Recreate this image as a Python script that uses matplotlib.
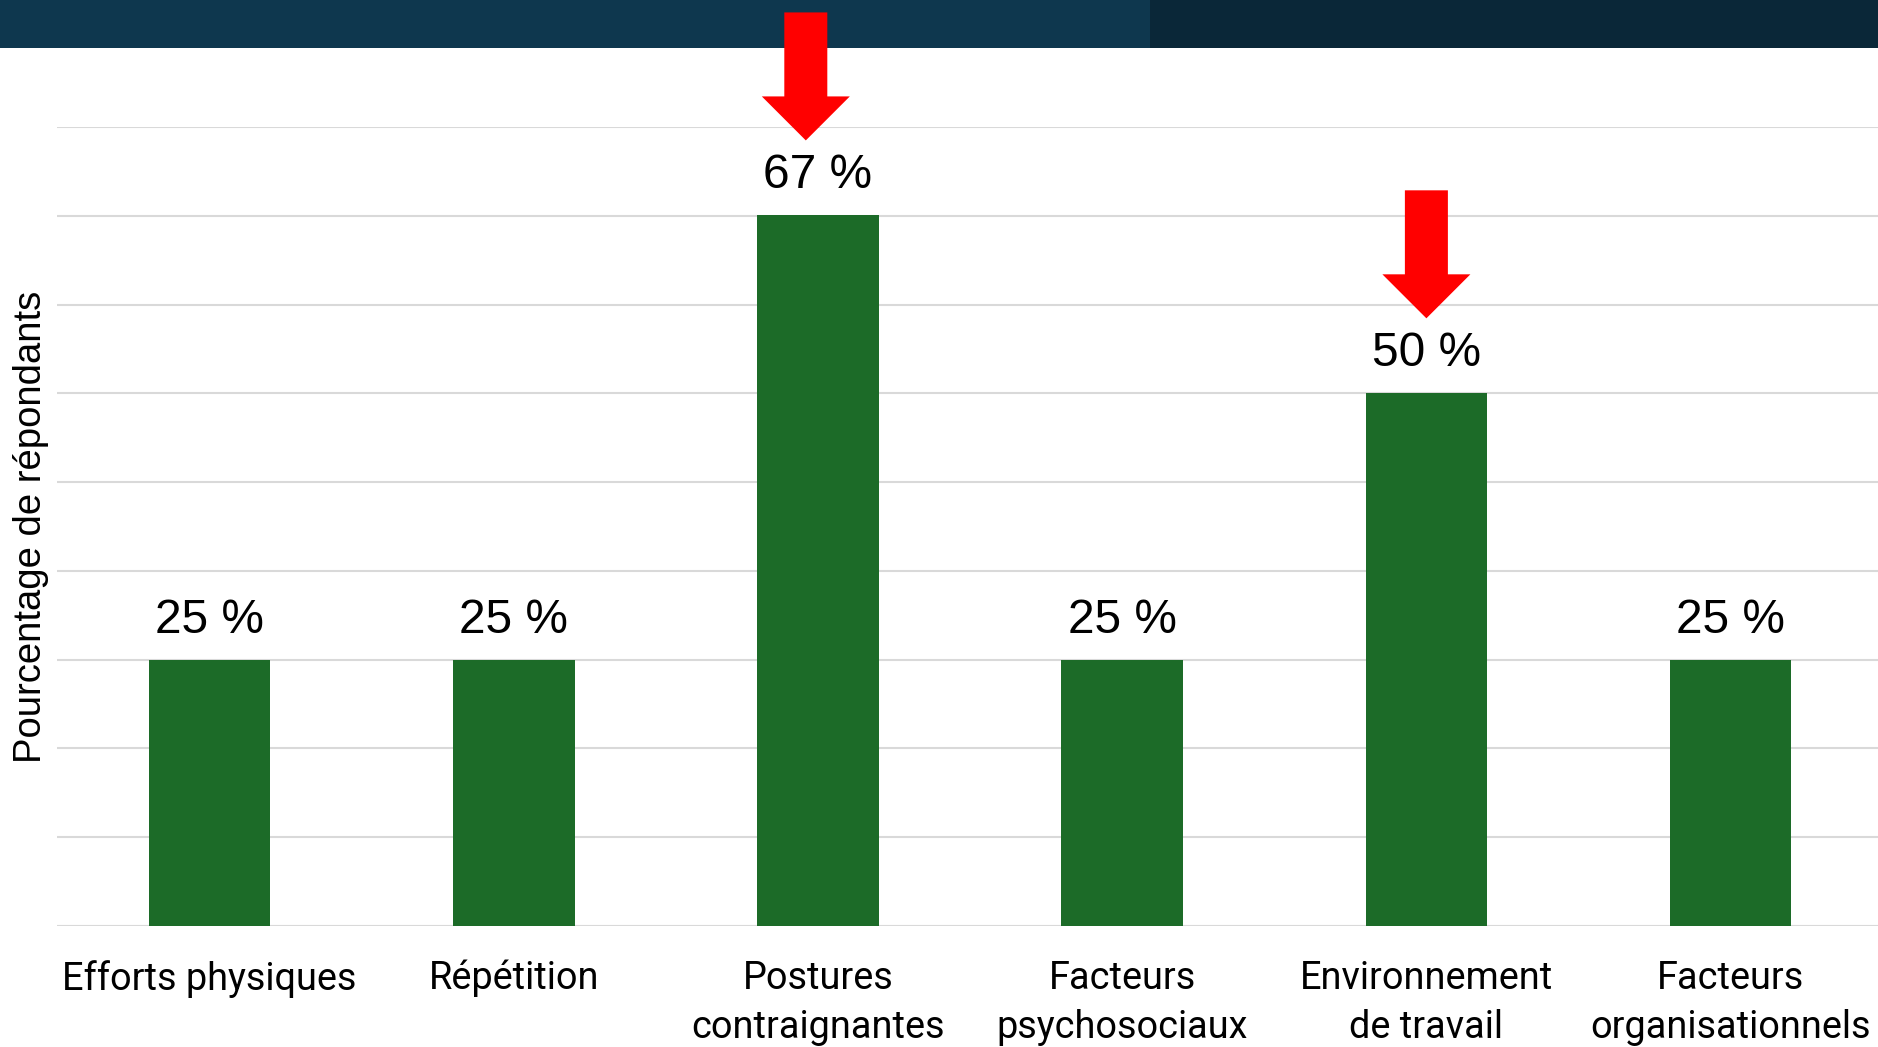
import numpy as np
import matplotlib
matplotlib.use("Agg")
import matplotlib.pyplot as plt
from matplotlib.patches import Rectangle

# risk factors cited by respondents (% of respondents)
categories = ["Efforts physiques", "Répétition", "Postures\ncontraignantes",
              "Facteurs\npsychosociaux", "Environnement\nde travail",
              "Facteurs\norganisationnels"]
percent = [25, 25, 66.7, 25, 50, 25]
highlighted = [2, 4]
arrow_nudge = [-0.04, 0.0]

bar_color = "#1c6b28"
grid_color = "#d9d9d9"
px = 0.72  # points per pixel at dpi 100

fig = plt.figure(figsize=(18.78, 10.47), dpi=100)
fig.patch.set_facecolor("white")

# dark banner along the top edge
fig.patches.append(Rectangle((0, 0.9542), 0.6124, 0.0458, transform=fig.transFigure,
                             facecolor="#0e374e", edgecolor="none", zorder=-5))
fig.patches.append(Rectangle((0.6124, 0.9542), 0.3876, 0.0458, transform=fig.transFigure,
                             facecolor="#0a2738", edgecolor="none", zorder=-5))

ax = fig.add_axes([0.0306, 0.1156, 0.9719, 0.7631])
ax.patch.set_visible(False)

x = np.arange(len(categories))
ax.bar(x, percent, width=0.4, color=bar_color, zorder=3)

ax.set_xlim(-0.5, len(categories) - 0.5)
ax.set_ylim(0, 75)
ax.set_yticks(np.linspace(0, 75, 10))
ax.yaxis.grid(True, color=grid_color, linewidth=1.5, zorder=0)
ax.axhline(0, color=grid_color, linewidth=2.2, zorder=2)
ax.tick_params(axis="y", length=0, labelleft=False)
ax.tick_params(axis="x", length=0, pad=24.5)
for side in ax.spines.values():
    side.set_visible(False)

ax.set_xticks(x)
ax.set_xticklabels(categories, family="Roboto", fontsize=27.3, linespacing=1.4,
                   va="top", ha="center", multialignment="center")

ax.set_ylabel("Pourcentage de répondants", family="Liberation Sans", fontsize=27.5)
ax.yaxis.label.set_va("center")
ax.yaxis.set_label_coords(-0.0145, 0.5)

# value labels above the bars
for xi, v in zip(x, percent):
    ax.annotate(f"{round(v)} %", xy=(xi, v), xytext=(0, 27 * px), textcoords="offset points",
                ha="center", va="baseline", family="Liberation Sans", fontsize=34.5)

# red arrows pointing at the two leading factors
for i, dx in zip(highlighted, arrow_nudge):
    ax.annotate("", xy=(i + dx, percent[i]), xytext=(0, (75 + 128) * px),
                textcoords="offset points", annotation_clip=False, clip_on=False,
                arrowprops=dict(arrowstyle=f"simple,head_length={44 * px},head_width={88 * px},tail_width={43 * px}",
                                mutation_scale=1, shrinkA=0, shrinkB=75 * px,
                                facecolor="#ff0000", edgecolor="none", clip_on=False),
                zorder=6)

fig.savefig("out.png", dpi=100)
